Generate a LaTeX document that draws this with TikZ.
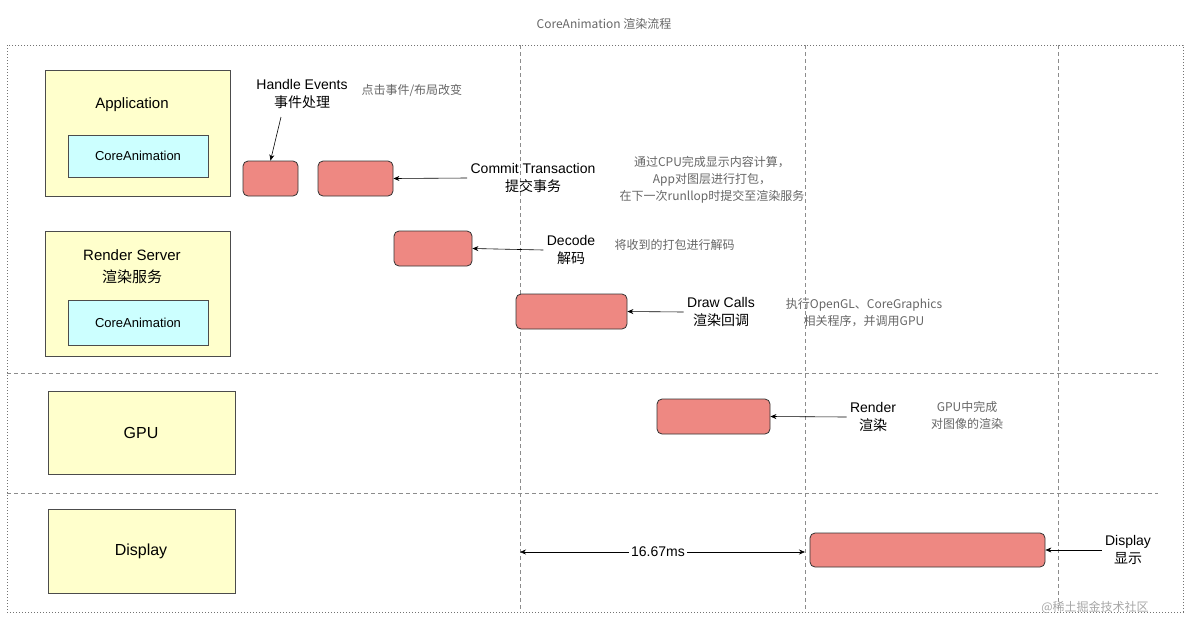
\documentclass[tikz,border=0pt]{standalone}
\usepackage{fontspec}
\setmainfont{Liberation Sans}
\newfontfamily\cjk{Noto Sans CJK SC}
\usetikzlibrary{arrows.meta}
\definecolor{ylw}{HTML}{FFFFCC}
\definecolor{cyn}{HTML}{CCFFFF}
\definecolor{red}{HTML}{EE8882}
\definecolor{gtxt}{HTML}{666666}
\tikzset{
 ybox/.style={draw=black!70,fill=ylw,line width=0.8pt},
 cbox/.style={draw=black!70,fill=cyn,line width=0.8pt,font=\fontsize{13}{15}\selectfont},
 rbox/.style={draw=black!80,fill=red,rounded corners=5pt,line width=0.8pt},
 lbl/.style={align=center,font=\fontsize{14}{18}\selectfont},
 gray/.style={align=center,text=gtxt,font=\cjk\fontsize{12}{17}\selectfont},
 arr/.style={-{Stealth[length=6pt,width=5pt]},line width=0.6pt},
 vdash/.style={dash pattern=on 4pt off 3pt,draw=black!45,line width=0.5pt},
 dots/.style={dash pattern=on 1pt off 2pt,draw=black!55,line width=0.6pt}
}
\begin{document}
\begin{tikzpicture}[x=1pt,y=-1pt]
\useasboundingbox (0,0) rectangle (1200,638);
\node[gray] (title) at (604,24) {CoreAnimation 渲染流程};
\draw[dots] (7,45) rectangle (1183,612);
\foreach \x in {520,805,1058} \draw[vdash] (\x,45) -- (\x,612);
\draw[vdash] (7,373) -- (1158,373);
\draw[vdash] (7,493) -- (1158,493);
% left boxes
\draw[ybox] (45,70) rectangle (230,196);
\node[lbl,font=\fontsize{15}{18}\selectfont] (app) at (132,105) {Application};
\draw[cbox] (68,135) rectangle (208,177);
\node[font=\fontsize{13}{15}\selectfont] (ca1) at (138,156) {CoreAnimation};
\draw[ybox] (45,231) rectangle (230,356);
\node[lbl,font=\fontsize{15}{22}\selectfont] (rs) at (132,267) {Render Server\\{\cjk 渲染服务}};
\draw[cbox] (68,300) rectangle (208,345);
\node[font=\fontsize{13}{15}\selectfont] (ca2) at (138,323) {CoreAnimation};
\draw[ybox] (48,391) rectangle (235,474);
\node[lbl,font=\fontsize{16}{18}\selectfont] (gpu) at (141,433) {GPU};
\draw[ybox] (48,509) rectangle (235,593);
\node[lbl,font=\fontsize{16}{18}\selectfont] (disp) at (141,551) {Display};
% red bars
\node[rbox,minimum width=55pt,minimum height=35pt] (r1) at (270.5,178.5) {};
\node[rbox,minimum width=75pt,minimum height=35pt] (r2) at (355.5,178.5) {};
\node[rbox,minimum width=78pt,minimum height=35pt] (r3) at (433,248.5) {};
\node[rbox,minimum width=111pt,minimum height=35pt] (r4) at (571.5,311.5) {};
\node[rbox,minimum width=113pt,minimum height=35pt] (r5) at (713.5,416.5) {};
\node[rbox,minimum width=235pt,minimum height=34pt] (r6) at (927.5,550) {};
% labels
\node[lbl] (he) at (302,94) {Handle Events\\{\cjk 事件处理}};
\coordinate (heA) at (281,117);
\draw[arr] (heA) -- (r1.north);
\node[gray,anchor=west] (heg) at (358,90) {点击事件/布局改变};
\node[lbl] (ct) at (533,178) {Commit Transaction\\{\cjk 提交事务}};
\draw[arr] (ct.west) -- (r2.east);
\node[gray] (ctg) at (712,180) {通过CPU完成显示内容计算，\\App对图层进行打包，\\在下一次runllop时提交至渲染服务};
\node[lbl] (dc) at (571,250) {Decode\\{\cjk 解码}};
\draw[arr] (dc.west) -- (r3.east);
\node[gray,anchor=west] (dcg) at (611,245) {将收到的打包进行解码};
\node[lbl] (dw) at (721,312) {Draw Calls\\{\cjk 渲染回调}};
\draw[arr] (dw.west) -- (r4.east);
\node[gray] (dwg) at (864,313) {执行OpenGL、CoreGraphics\\相关程序，并调用GPU};
\node[lbl] (rd) at (873,417) {Render\\{\cjk 渲染}};
\draw[arr] (rd.west) -- (r5.east);
\node[gray] (rdg) at (967,415) {GPU中完成\\对图像的渲染};
\node[lbl] (dp) at (1128,550) {Display\\{\cjk 显示}};
\draw[arr] (dp.west) -- (r6.east);
\coordinate (t0) at (520,552);
\coordinate (t1) at (805,552);
\draw[arr,{Stealth[length=6pt,width=5pt]}-{Stealth[length=6pt,width=5pt]}] (t0) -- (t1);
\node[lbl,fill=white,inner sep=2pt] (ms) at (658,552) {16.67ms};
\node[gray,text=black!35] (wm) at (1095,607) {@稀土掘金技术社区};
\end{tikzpicture}
\end{document}
